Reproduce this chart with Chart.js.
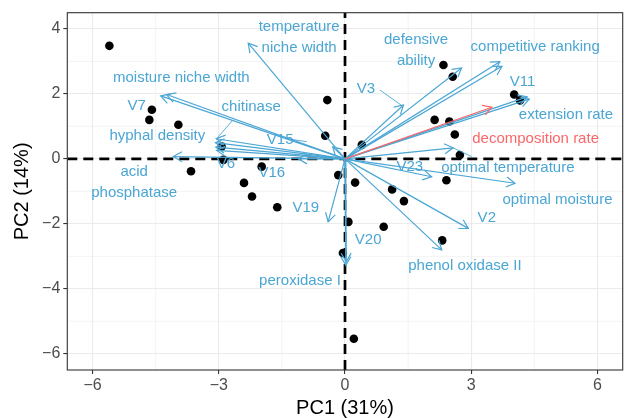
<!DOCTYPE html>
<html><head><meta charset="utf-8">
<script src="https://cdn.jsdelivr.net/npm/chart.js@4"></script>
<style>html,body{margin:0;padding:0;background:#fff}#wrap{width:624px;height:418px;position:relative}</style>
</head><body><div id="wrap"><canvas id="c"></canvas></div>
<script>
// ---- data ----
const pointX = [-5.60,-4.59,-4.65,-3.96,-3.66,-2.40,-2.21,-1.61,-1.98,-2.93,-2.89,-0.42,-0.47,-0.16,0.24,0.08,-0.05,0.21,1.12,1.40,0.92,2.31,2.41,2.73,2.34,2.56,2.13,2.48,2.61,4.02,4.16,0.40];
const pointY = [3.48,1.51,1.20,1.05,-0.38,-0.74,-1.16,-1.49,-0.24,0.38,-0.03,1.81,0.71,-0.50,-0.73,-1.94,-2.90,-5.54,-0.94,-1.30,-2.09,-2.51,-0.66,0.12,2.89,2.53,1.20,1.15,0.75,1.98,1.80,0.43];

const arrowNames = ['temperature niche width','moisture niche width','V7','chitinase','hyphal density','V6','V6b','acid phosphatase','V15','V16','V19','V20','peroxidase I','phenol oxidase II','V2','optimal moisture','V23','optimal temperature','decomposition rate','V11','extension rate','competitive ranking','competitive ranking b','defensive ability','V3'];
const arrowX = [-2.30,-4.38,-4.24,-3.06,-3.08,-3.07,-3.05,-4.08,-0.29,-1.11,-0.40,0.03,0.02,2.30,2.93,4.04,2.06,2.57,3.49,4.38,4.33,3.68,3.73,2.77,1.39];
const arrowY = [3.56,1.94,1.98,0.62,0.50,0.36,0.26,0.07,0.37,0.00,-1.94,-3.17,-3.28,-2.80,-2.14,-0.75,-0.55,0.34,1.59,1.84,1.91,2.99,2.85,2.80,1.66];
const highlighted = 'decomposition rate';

const labelText = ['temperature\nniche width','moisture niche width','V7','chitinase','hyphal density','V6','acid\nphosphatase','V15','V16','V19','V20','peroxidase I','phenol oxidase II','V2','optimal moisture','V23','optimal temperature','decomposition rate','V11','extension rate','competitive ranking','defensive\nability','V3'];
const labelX = [-1.09,-3.89,-4.95,-2.23,-4.46,-2.83,-5.01,-1.54,-1.74,-0.93,0.55,-1.07,2.85,3.37,5.05,1.54,3.87,4.53,4.22,5.25,4.52,1.69,0.50];
const labelY = [3.73,2.48,1.63,1.61,0.71,-0.14,-0.72,0.60,-0.44,-1.52,-2.50,-3.76,-3.30,-1.83,-1.27,-0.24,-0.27,0.63,2.38,1.37,3.45,3.35,2.17];

// label leader segments (data units)
const segX0 = [0.83,-2.66,-1.27,2.57];
const segY0 = [2.12,1.20,0.60,0.34];
const segX1 = [1.34,-3.04,-0.91,3.01];
const segY1 = [1.65,0.64,0.53,0.07];

const xTicks = [-6,-3,0,3,6];
const xTickLabels = ['\u22126','\u22123','0','3','6'];
const yTicks = [-6,-4,-2,0,2,4];
const yTickLabels = ['\u22126','\u22124','\u22122','0','2','4'];
const xMinor = [-4.5,-1.5,1.5,4.5];
const yMinor = [-5,-3,-1,1,3];
const xRange = [-6.6,6.6];
const yRange = [-6.5,4.5];
const xTitle = 'PC1 (31%)';
const yTitle = 'PC2 (14%)';

// ---- styles ----
const BLUE = '#4ba6d4', RED = '#f8686a';
const FONT = "'Liberation Sans', Arial, sans-serif";

const datasets = [];
datasets.push({type:'scatter', data:[{x:xRange[0],y:0},{x:xRange[1],y:0}], showLine:true, borderColor:'#000', borderWidth:2.7, borderDash:[10,6], pointRadius:0, order:10});
datasets.push({type:'scatter', data:[{x:0,y:yRange[0]},{x:0,y:yRange[1]}], showLine:true, borderColor:'#000', borderWidth:2.7, borderDash:[10,6], pointRadius:0, order:10});
datasets.push({type:'scatter', data:pointX.map((x,i)=>({x, y:pointY[i]})), pointRadius:4.3, pointHoverRadius:4.3, backgroundColor:'#000', borderWidth:0, order:5});
arrowNames.forEach((n,i)=>{
  const col = n===highlighted ? RED : BLUE;
  datasets.push({type:'scatter', isArrow:true, data:[{x:0,y:0},{x:arrowX[i],y:arrowY[i]}], showLine:true, borderColor:col, borderWidth:1.2, pointRadius:0, order:n===highlighted?0:1});
});
segX0.forEach((x,i)=>{
  datasets.push({type:'scatter', data:[{x, y:segY0[i]},{x:segX1[i],y:segY1[i]}], showLine:true, borderColor:BLUE, borderWidth:0.9, pointRadius:0, order:1});
});

const overlay = {
  id:'overlay',
  beforeDatasetsDraw(chart){
    const {ctx, chartArea:a, scales:{x,y}} = chart;
    ctx.save();
    ctx.strokeStyle = '#ebebeb'; ctx.lineWidth = 0.6;
    xMinor.forEach(v=>{const p=x.getPixelForValue(v); ctx.beginPath(); ctx.moveTo(p,a.top); ctx.lineTo(p,a.bottom); ctx.stroke();});
    yMinor.forEach(v=>{const p=y.getPixelForValue(v); ctx.beginPath(); ctx.moveTo(a.left,p); ctx.lineTo(a.right,p); ctx.stroke();});
    ctx.restore();
  },
  afterDatasetsDraw(chart){
    const {ctx, chartArea:a, scales:{x,y}} = chart;
    ctx.save();
    // arrowheads
    chart.data.datasets.forEach((ds,i)=>{
      if(!ds.isArrow) return;
      const m = chart.getDatasetMeta(i).data;
      const x0=m[0].x, y0=m[0].y, x1=m[1].x, y1=m[1].y;
      const ang = Math.atan2(y1-y0, x1-x0), L = 10, h = Math.PI/6;
      ctx.strokeStyle = ds.borderColor; ctx.lineWidth = 1.2; ctx.lineCap='butt';
      ctx.beginPath();
      ctx.moveTo(x1 - L*Math.cos(ang-h), y1 - L*Math.sin(ang-h));
      ctx.lineTo(x1, y1);
      ctx.lineTo(x1 - L*Math.cos(ang+h), y1 - L*Math.sin(ang+h));
      ctx.stroke();
    });
    // labels
    ctx.font = '15px ' + FONT;
    ctx.textAlign = 'center'; ctx.textBaseline = 'middle';
    labelText.forEach((t,i)=>{
      ctx.fillStyle = t===highlighted ? RED : BLUE;
      const px = x.getPixelForValue(labelX[i]), py = y.getPixelForValue(labelY[i]);
      const lines = t.split('\n'), lh = 21;
      lines.forEach((ln,k)=>ctx.fillText(ln, px, py + (k-(lines.length-1)/2)*lh));
    });
    // panel border
    ctx.strokeStyle = '#333'; ctx.lineWidth = 1.1;
    ctx.strokeRect(a.left, a.top, a.right-a.left, a.bottom-a.top);
    ctx.restore();
  }
};

new Chart(document.getElementById('c'), {
  type:'scatter',
  data:{datasets},
  options:{
    responsive:true, maintainAspectRatio:false, animation:false,
    events:[],
    layout:{autoPadding:false, padding:{top:12.7, right:1.3, left:0, bottom:0}},
    plugins:{legend:{display:false}, tooltip:{enabled:false}},
    scales:{
      x:{type:'linear', min:xRange[0], max:xRange[1],
        afterBuildTicks:s=>{s.ticks = xTicks.map(v=>({value:v}));},
        afterFit:s=>{s.height = 48; s.paddingLeft = 0; s.paddingRight = 0;},
        ticks:{callback:(v)=>xTickLabels[xTicks.indexOf(v)], color:'#4d4d4d', font:{family:FONT,size:16}, padding:2, maxRotation:0, autoSkip:false},
        grid:{color:'#ebebeb', lineWidth:1.1, drawTicks:true, tickLength:4, tickColor:'#333', tickWidth:1.1},
        border:{display:false},
        title:{display:true, text:xTitle, color:'#000', font:{family:FONT,size:20,lineHeight:1}, padding:{top:0,bottom:0}}
      },
      y:{type:'linear', min:yRange[0], max:yRange[1],
        afterBuildTicks:s=>{s.ticks = yTicks.map(v=>({value:v}));},
        afterFit:s=>{s.width = 67.3; s.paddingTop = 0; s.paddingBottom = 0;},
        ticks:{callback:(v)=>yTickLabels[yTicks.indexOf(v)], color:'#4d4d4d', font:{family:FONT,size:16}, padding:3, autoSkip:false},
        grid:{color:'#ebebeb', lineWidth:1.1, drawTicks:true, tickLength:4, tickColor:'#333', tickWidth:1.1},
        border:{display:false},
        title:{display:true, text:yTitle, color:'#000', font:{family:FONT,size:20,lineHeight:1}, padding:{top:12,bottom:0}}
      }
    }
  },
  plugins:[overlay]
});
</script>
</body></html>
